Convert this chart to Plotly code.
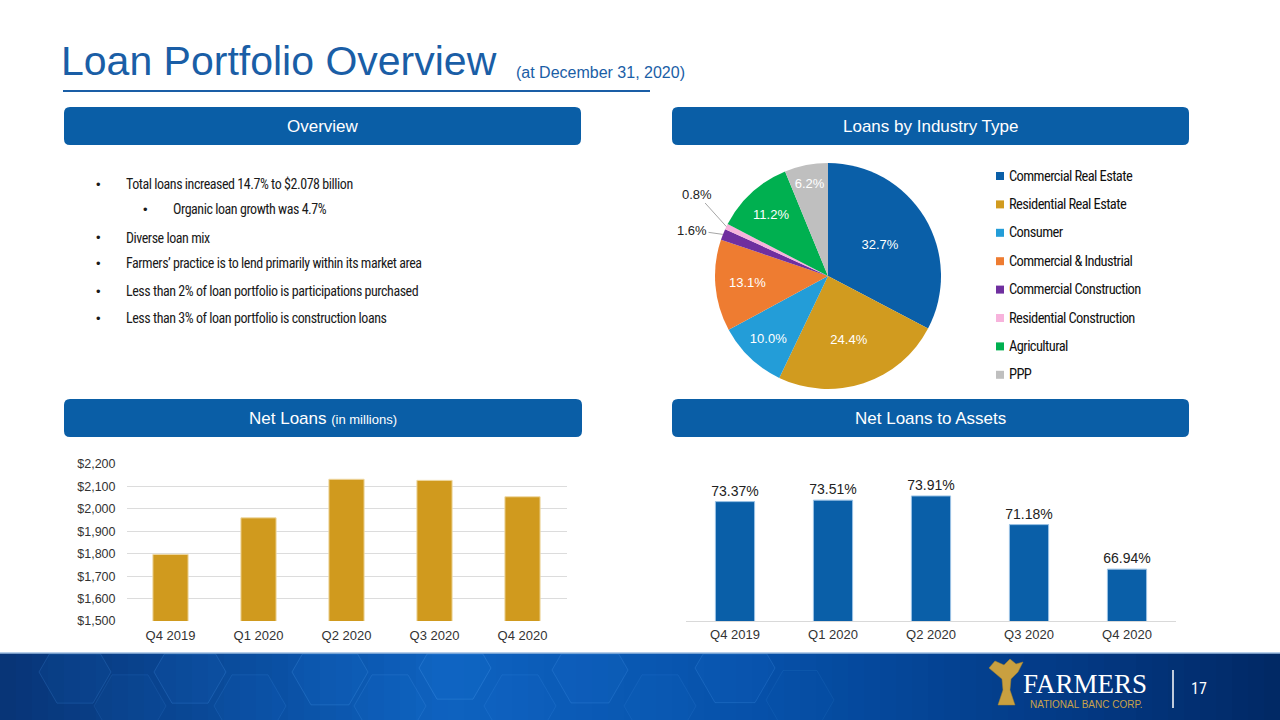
import math
import plotly.graph_objects as go

# ---------------- data ----------------
quarters = ["Q4 2019", "Q1 2020", "Q2 2020", "Q3 2020", "Q4 2020"]
net_loans = [1797, 1960, 2132, 2127, 2054]              # $ millions
loans_to_assets = [73.37, 73.51, 73.91, 71.18, 66.94]   # %

industry_labels = ["Commercial Real Estate", "Residential Real Estate", "Consumer",
                   "Commercial & Industrial", "Commercial Construction",
                   "Residential Construction", "Agricultural", "PPP"]
industry_share = [32.7, 24.4, 10.0, 13.1, 1.6, 0.8, 11.2, 6.2]
industry_colors = ["#0a5fa8", "#d19b1f", "#239dd8", "#ee7c31", "#6f2f9f",
                   "#f7b3dc", "#00b050", "#bfbfbf"]

bullets = [
    (0, "Total loans increased 14.7% to $2.078 billion"),
    (1, "Organic loan growth was 4.7%"),
    (0, "Diverse loan mix"),
    (0, "Farmers\u2019 practice is to lend primarily within its market area"),
    (0, "Less than 2% of loan portfolio is participations purchased"),
    (0, "Less than 3% of loan portfolio is construction loans"),
]

W, H = 1280, 720
def px(x): return x / W
def py(y): return 1 - y / H

SANS = "Liberation Sans, Arial, sans-serif"
NARROW = "Roboto Condensed, Liberation Sans Narrow, DejaVu Sans Condensed, sans-serif"
HDR = "#0a5ea6"
TITLE_C = "#1a5ea6"

def tight(t, ls):
    return f"<span style='letter-spacing:{ls}px'>{t}</span>"

# pie geometry (pixels)
PIE_CX, PIE_CY, PIE_R = 828, 276, 113

fig = go.Figure()

# ---------------- pie ----------------
small = [v < 2 for v in industry_share]
fig.add_trace(go.Pie(
    labels=industry_labels, values=industry_share, sort=False,
    direction="clockwise", rotation=0,
    marker=dict(colors=industry_colors, line=dict(width=0)),
    texttemplate=["" if s else "%{value:.1f}%" for s in small],
    textposition="inside",
    insidetextorientation="horizontal",
    insidetextfont=dict(family=SANS, size=13, color="white"),
    domain=dict(x=[px(PIE_CX - PIE_R), px(PIE_CX + PIE_R)], y=[py(PIE_CY + PIE_R), py(PIE_CY - PIE_R)]),
    showlegend=False, hoverinfo="label+percent",
))

# ---------------- net loans bars ----------------
fig.add_trace(go.Bar(
    x=quarters, y=net_loans, marker=dict(color="#d09a1e", line=dict(color="#efd9a4", width=1)),
    xaxis="x", yaxis="y", showlegend=False,
))
# ---------------- net loans to assets bars ----------------
fig.add_trace(go.Bar(
    x=quarters, y=loans_to_assets, marker=dict(color="#0a5fa8", line=dict(color="#9cc3e6", width=1)),
    text=[f"{v:.2f}%" for v in loans_to_assets], textposition="outside", constraintext="none",
    textfont=dict(family=SANS, size=14, color="#222222"), cliponaxis=False,
    xaxis="x2", yaxis="y2", showlegend=False,
))

fig.update_layout(
    width=W, height=H, margin=dict(l=0, r=0, t=0, b=0, pad=0, autoexpand=False),
    paper_bgcolor="white", plot_bgcolor="rgba(0,0,0,0)",
    bargap=0.6, showlegend=False,
    xaxis=dict(domain=[px(126.5), px(566.5)], tickfont=dict(family=SANS, size=13, color="#333333"),
               showline=False, showgrid=False, ticks="", ticklabelstandoff=5, fixedrange=True,
               automargin=False),
    yaxis=dict(domain=[py(621), py(464)], range=[1500, 2200], dtick=100, tickformat="$,.0f",
               tickfont=dict(family=SANS, size=12.5, color="#333333"), showgrid=True,
               gridcolor="#dcdcdc", gridwidth=1, zeroline=False, ticks="", ticklabelstandoff=10,
               fixedrange=True, automargin=False),
    xaxis2=dict(domain=[px(686), px(1176)], anchor="y2", tickfont=dict(family=SANS, size=13, color="#333333"),
                showline=True, linecolor="#d9d9d9", linewidth=1, showgrid=False, ticks="",
                ticklabelstandoff=1, fixedrange=True, automargin=False),
    yaxis2=dict(domain=[py(621), py(474)], anchor="x2", range=[62, 76], visible=False,
                fixedrange=True, automargin=False),
)

shapes = []
ann = []

# ---------------- title ----------------
ann.append(dict(x=px(59), y=py(77), xref="paper", yref="paper", xanchor="left", yanchor="bottom",
                text="Loan Portfolio Overview", showarrow=False, yshift=-9,
                font=dict(family=SANS, size=41, color=TITLE_C)))
ann.append(dict(x=px(514), y=py(78), xref="paper", yref="paper", xanchor="left", yanchor="bottom",
                text="(at December 31, 2020)", showarrow=False, yshift=-5,
                font=dict(family=SANS, size=16, color=TITLE_C)))
shapes.append(dict(type="line", xref="paper", yref="paper", x0=px(63), x1=px(650), y0=py(91), y1=py(91),
                   line=dict(color=TITLE_C, width=2)))

# ---------------- header boxes ----------------
def rrect(x0, y0, x1, y1, r=6):
    X = lambda v: f"{px(v):.5f}"
    Y = lambda v: f"{py(v):.5f}"
    return (f"M {X(x0+r)} {Y(y0)} L {X(x1-r)} {Y(y0)} Q {X(x1)} {Y(y0)} {X(x1)} {Y(y0+r)} "
            f"L {X(x1)} {Y(y1-r)} Q {X(x1)} {Y(y1)} {X(x1-r)} {Y(y1)} L {X(x0+r)} {Y(y1)} "
            f"Q {X(x0)} {Y(y1)} {X(x0)} {Y(y1-r)} L {X(x0)} {Y(y0+r)} Q {X(x0)} {Y(y0)} {X(x0+r)} {Y(y0)} Z")

headers = [
    (64, 107, 581, 145, "Overview"),
    (672, 107, 1189, 145, "Loans by Industry Type"),
    (64, 399, 582, 437, "Net Loans <span style='font-size:13px'>(in millions)</span>"),
    (672, 399, 1189, 437, "Net Loans to Assets"),
]
for x0, y0, x1, y1, t in headers:
    shapes.append(dict(type="path", xref="paper", yref="paper", path=rrect(x0, y0, x1, y1),
                       fillcolor=HDR, line=dict(width=0)))
    ann.append(dict(x=px((x0 + x1) / 2), y=py((y0 + y1) / 2), xref="paper", yref="paper",
                    text=t, showarrow=False, xanchor="center", yanchor="middle",
                    font=dict(family=SANS, size=17, color="white")))

# ---------------- bullets ----------------
bullet_y = [184, 209, 238, 263, 291, 318]
for (lvl, t), yy in zip(bullets, bullet_y):
    bx = 98 + lvl * 47
    ann.append(dict(x=px(bx), y=py(yy), xref="paper", yref="paper", text="\u2022", showarrow=False,
                    xanchor="center", yanchor="middle", font=dict(family=SANS, size=13, color="#1a1a1a")))
    ann.append(dict(x=px(bx + 26), y=py(yy), xref="paper", yref="paper", text=tight(t, -0.45), showarrow=False,
                    xanchor="left", yanchor="middle", font=dict(family=NARROW, size=14, color="#1a1a1a")))

# ---------------- pie: outside labels for the small slices ----------------
label_pos = {5: (697, 194), 4: (692, 230)}
cum = 0.0
total = sum(industry_share)
for i, v in enumerate(industry_share):
    mid = (cum + v / 2) / total
    cum += v
    if i in label_pos:
        th = 2 * math.pi * mid
        ex = PIE_CX + PIE_R * math.sin(th)
        ey = PIE_CY - PIE_R * math.cos(th)
        lx, ly = label_pos[i]
        ann.append(dict(x=px(ex), y=py(ey), xref="paper", yref="paper", ax=lx - ex, ay=ly - ey,
                        axref="pixel", ayref="pixel", text=f"{v:.1f}%", showarrow=True,
                        arrowhead=0, arrowwidth=1, arrowcolor="#a6a6a6", standoff=0,
                        font=dict(family=SANS, size=13, color="#222222")))

# ---------------- pie legend ----------------
for i, (lab, col) in enumerate(zip(industry_labels, industry_colors)):
    yy = 176 + i * 28.4
    shapes.append(dict(type="rect", xref="paper", yref="paper", x0=px(996), x1=px(1004),
                       y0=py(yy + 4), y1=py(yy - 4), fillcolor=col, line=dict(width=0)))
    ann.append(dict(x=px(1007), y=py(yy), xref="paper", yref="paper", text=tight(lab, -0.6), showarrow=False,
                    xanchor="left", yanchor="middle", font=dict(family=NARROW, size=14.5, color="#111111")))

# ---------------- footer ----------------
FOOT_TOP = 653
def lerp(c1, c2, t):
    return tuple(int(round(a + (b - a) * t)) for a, b in zip(c1, c2))
stops = [(0, (8, 52, 118)), (0.2, (10, 78, 160)), (0.35, (14, 98, 192)), (0.6, (6, 80, 168)),
         (0.85, (3, 56, 130)), (1.0, (1, 40, 100))]
n = 80
for k in range(n):
    t = (k + 0.5) / n
    c = stops[-1][1]
    for (a, ca), (b, cb) in zip(stops[:-1], stops[1:]):
        if a <= t <= b:
            c = lerp(ca, cb, (t - a) / (b - a))
            break
    shapes.append(dict(type="rect", xref="paper", yref="paper", x0=px(k * W / n), x1=px((k + 1) * W / n + 1),
                       y0=0, y1=py(FOOT_TOP), fillcolor=f"rgb{c}", line=dict(width=0), layer="below"))

def clip_top(pts, ymin):
    out = []
    m = len(pts)
    for j in range(m):
        (x1, y1), (x2, y2) = pts[j], pts[(j + 1) % m]
        in1, in2 = y1 >= ymin, y2 >= ymin
        if in1:
            out.append((x1, y1))
        if in1 != in2:
            f = (ymin - y1) / (y2 - y1)
            out.append((x1 + f * (x2 - x1), ymin))
    return out

def hexpath(cx, cy, r):
    pts = [(cx + r * math.cos(math.radians(a)), cy + r * math.sin(math.radians(a))) for a in range(0, 360, 60)]
    pts = clip_top(pts, FOOT_TOP + 1)
    return "M " + " L ".join(f"{px(x):.5f} {py(y):.5f}" for x, y in pts) + " Z"
for cx, cy, r, op in [(75, 672, 36, 0.18), (130, 706, 36, 0.12), (190, 672, 36, 0.2), (250, 706, 36, 0.15),
                      (330, 672, 38, 0.22), (390, 706, 36, 0.18), (455, 668, 36, 0.25), (520, 706, 36, 0.15),
                      (590, 670, 38, 0.2), (660, 706, 36, 0.12), (735, 668, 40, 0.2), (800, 700, 34, 0.1)]:
    shapes.append(dict(type="path", xref="paper", yref="paper", path=hexpath(cx, cy, r),
                       fillcolor=f"rgba(30,120,220,{op*0.45})", line=dict(color=f"rgba(80,160,240,{op*1.1})", width=1)))
shapes.append(dict(type="line", xref="paper", yref="paper", x0=0, x1=1, y0=py(FOOT_TOP), y1=py(FOOT_TOP),
                   line=dict(color="#9dbde0", width=1.5)))

# logo: wheat sheaf
wheat = [(989, 668), (995, 661), (1004, 665), (1010, 659), (1016, 664), (1023, 662), (1018, 672),
         (1011, 679), (1010, 690), (1015, 705), (998, 705), (1003, 690), (1002, 679)]
shapes.append(dict(type="path", xref="paper", yref="paper",
                   path="M " + " L ".join(f"{px(x):.5f} {py(y):.5f}" for x, y in wheat) + " Z",
                   fillcolor="#c9a040", line=dict(color="#a8842c", width=0.5)))
ann.append(dict(x=px(1085), y=py(684), xref="paper", yref="paper", text="FARMERS", showarrow=False,
                xanchor="center", yanchor="middle",
                font=dict(family="Liberation Serif, DejaVu Serif, serif", size=27, color="white")))
ann.append(dict(x=px(1086), y=py(704), xref="paper", yref="paper", text="NATIONAL BANC CORP.", showarrow=False,
                xanchor="center", yanchor="middle", font=dict(family=SANS, size=10, color="#c9a24a")))
shapes.append(dict(type="line", xref="paper", yref="paper", x0=px(1173), x1=px(1173), y0=py(670), y1=py(708),
                   line=dict(color="white", width=1.5)))
ann.append(dict(x=px(1199), y=py(688), xref="paper", yref="paper", text="17", showarrow=False,
                xanchor="center", yanchor="middle", font=dict(family=NARROW, size=16, color="white")))

fig.update_layout(shapes=shapes, annotations=ann)
fig.write_html("out.html", config={"displayModeBar": False},
               post_script="document.body.style.margin='0';document.body.style.overflow='hidden';")
